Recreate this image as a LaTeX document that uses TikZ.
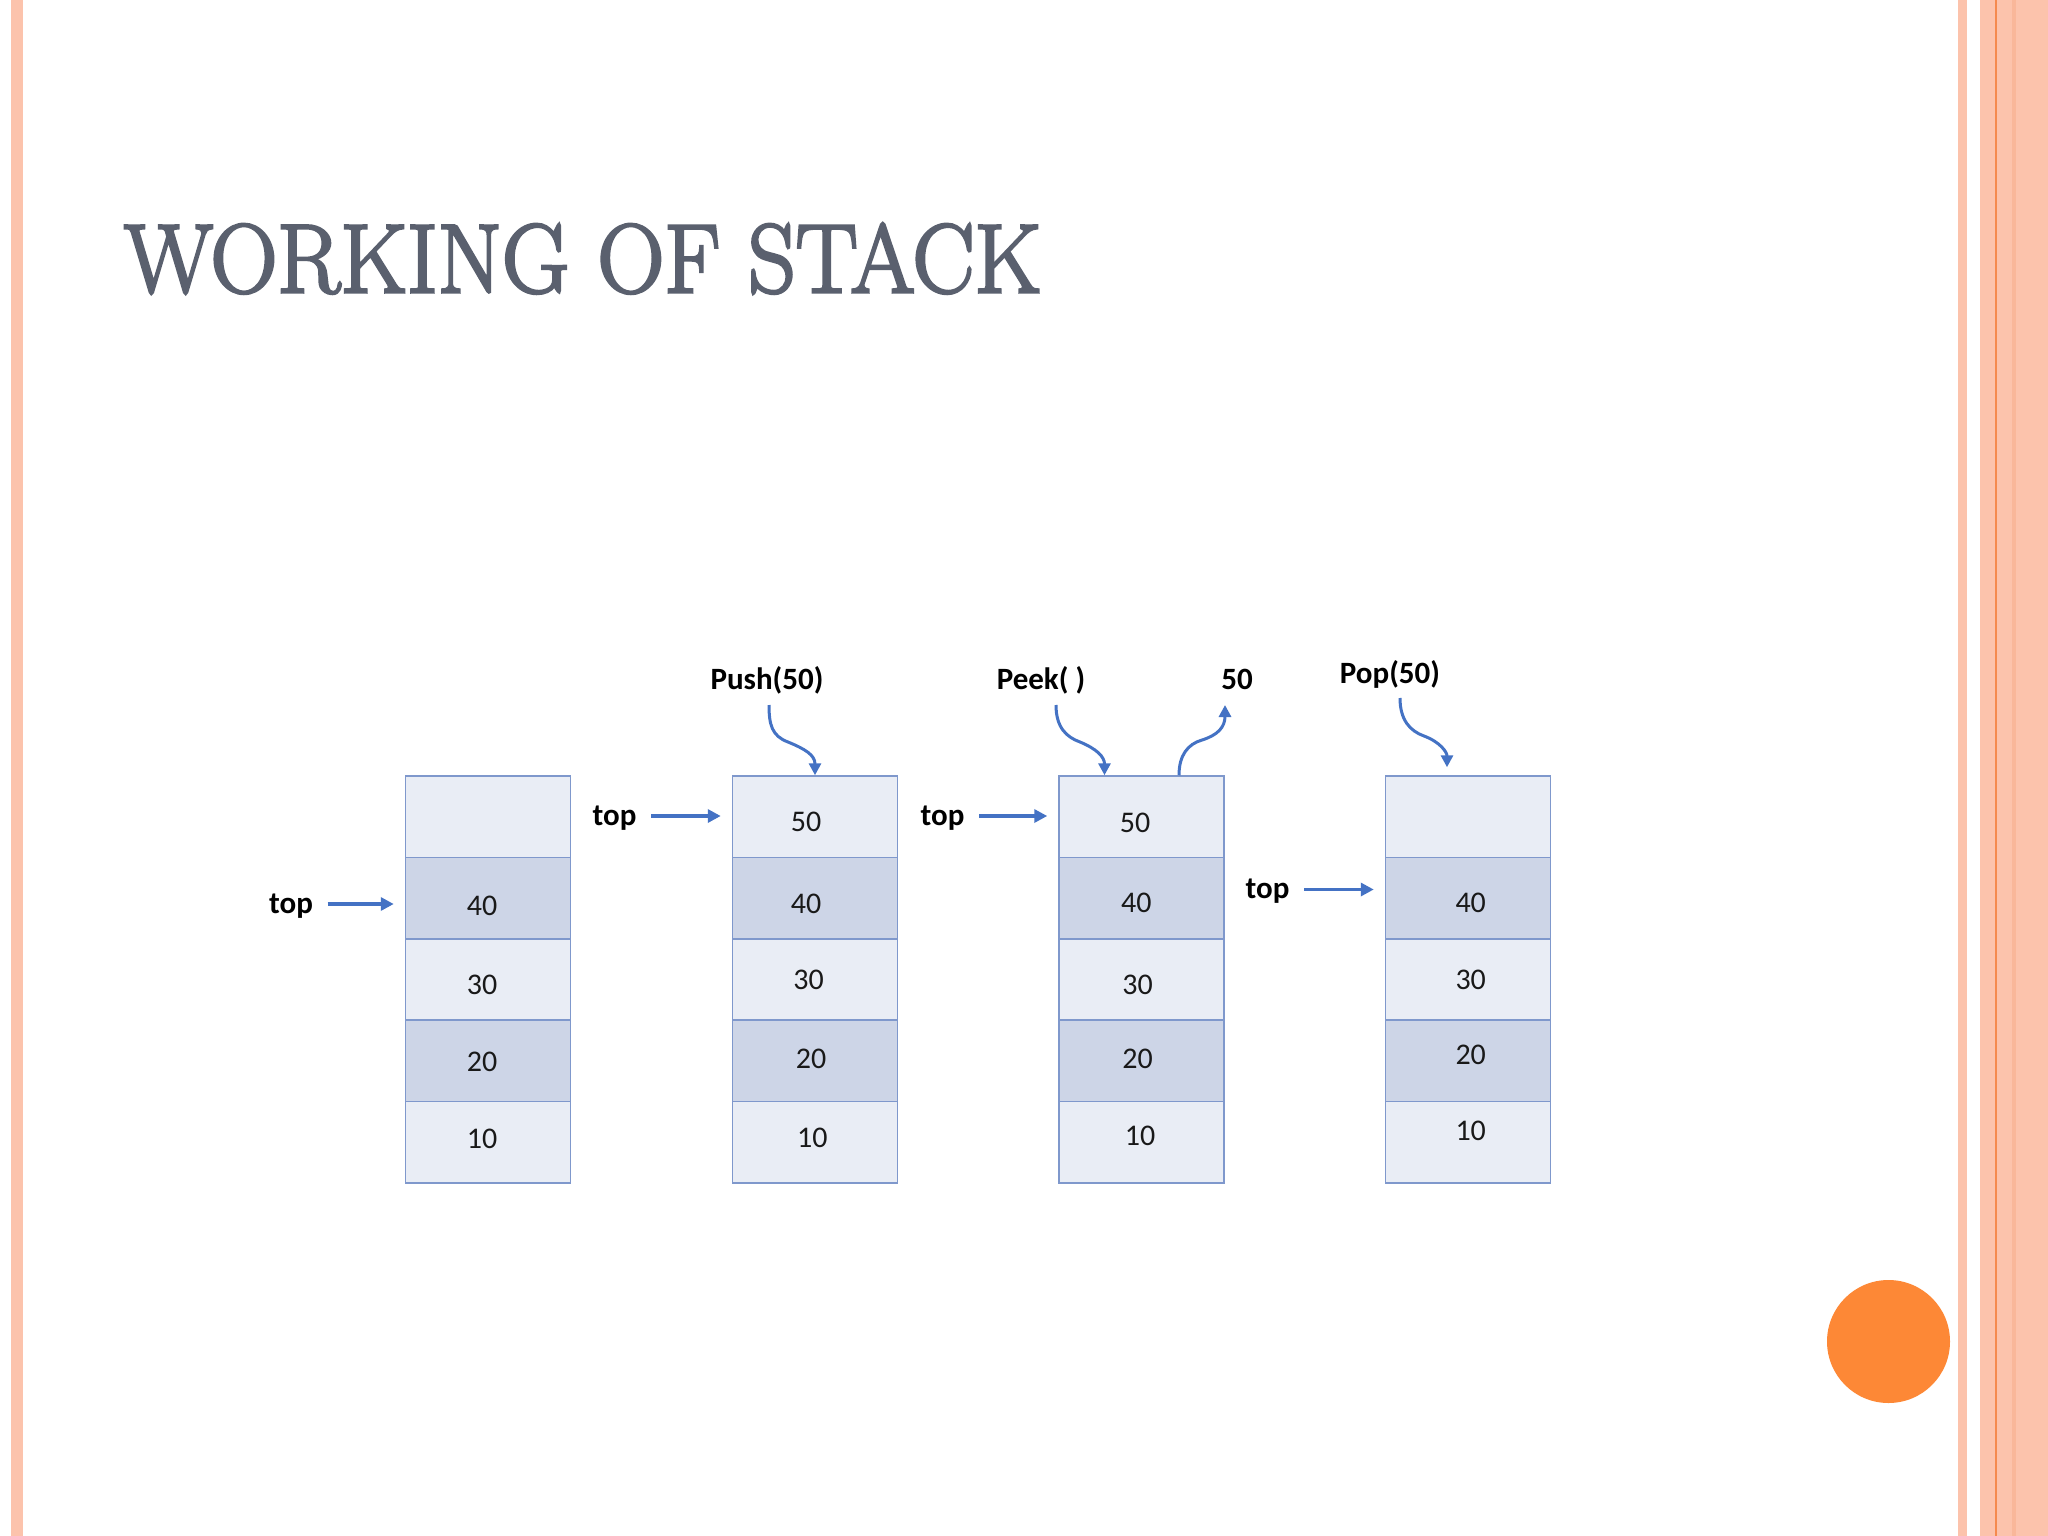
\documentclass[tikz,border=0pt]{standalone}
\usepackage{fontspec}
\newfontfamily\calib{Carlito}
\newfontfamily\titlefont[FakeBold=3]{Latin Modern Roman}
\usetikzlibrary{arrows.meta}
\definecolor{salmon}{HTML}{FCC3AC}
\definecolor{salmonD}{HTML}{F9B79A}
\definecolor{orangeL}{HTML}{F58A4E}
\definecolor{dotorange}{HTML}{FD8836}
\definecolor{titlegray}{HTML}{5A606E}
\definecolor{cellL}{HTML}{E9EDF5}
\definecolor{cellD}{HTML}{CDD5E7}
\definecolor{cellB}{HTML}{7F98CC}
\definecolor{arrblue}{HTML}{4472C4}
\tikzset{
 cell/.style={draw=cellB, line width=1.5pt, minimum width=165pt, minimum height=81.4pt, inner sep=0pt},
 lc/.style={cell, fill=cellL},
 dc/.style={cell, fill=cellD},
 num/.style={font=\calib\fontsize{30}{36}\selectfont, text=black!90, inner sep=0pt},
 lab/.style={font=\calib\bfseries\fontsize{31}{37}\selectfont, inner sep=0pt},
 ptr/.style={draw=arrblue, line width=3.5pt, shorten <=14.5pt, shorten >=11pt, -{Triangle[length=13pt,width=13pt]}},
 curv/.style={draw=arrblue, line width=3pt, -{Triangle[length=12pt,width=12pt]}},
}
\begin{document}
\begin{tikzpicture}[x=1pt,y=-1pt]
\useasboundingbox (0,0) rectangle (2048,1536);
\fill[white] (0,0) rectangle (2048,1536);
% decorative stripes
\fill[salmon] (11,0) rectangle (23,1536);
\fill[salmon] (1958,0) rectangle (1967,1536);
\fill[salmon] (1980,0) rectangle (2048,1536);
\fill[orangeL] (1995,0) rectangle (1997,1536);
\fill[salmonD] (2012,0) rectangle (2016,1536);
\fill[dotorange] (1888.5,1341.5) circle (61.5pt);
% title
\node[anchor=south west, inner sep=0pt, text=titlegray] (title) at (124,294)
  {\resizebox{917pt}{69pt}{\titlefont\fontsize{100}{100}\selectfont WORKING OF STACK}};
% stacks
\foreach \s/\x in {1/488,2/815,3/1141.5,4/1468}{
  \node[lc] (s\s c1) at (\x,816.7) {};
  \node[dc] (s\s c2) at (\x,898.1) {};
  \node[lc] (s\s c3) at (\x,979.5) {};
  \node[dc] (s\s c4) at (\x,1060.9) {};
  \node[lc] (s\s c5) at (\x,1142.3) {};
}
% numbers
\node[num] (n12) at (482,906) {40};
\node[num] (n13) at (482,985) {30};
\node[num] (n14) at (482,1062) {20};
\node[num] (n15) at (482,1139) {10};
\node[num] (n21) at (806,821.5) {50};
\node[num] (n22) at (806,904) {40};
\node[num] (n23) at (808.5,979.6) {30};
\node[num] (n24) at (811,1059.2) {20};
\node[num] (n25) at (812.4,1137.6) {10};
\node[num] (n31) at (1135,822.9) {50};
\node[num] (n32) at (1136.3,902.5) {40};
\node[num] (n33) at (1137.6,984.8) {30};
\node[num] (n34) at (1137.6,1059.2) {20};
\node[num] (n35) at (1140,1136.3) {10};
\node[num] (n42) at (1470.7,902.5) {40};
\node[num] (n43) at (1470.7,979.6) {30};
\node[num] (n44) at (1470.7,1055.3) {20};
\node[num] (n45) at (1470.7,1131.1) {10};
% top pointers
\node[lab, anchor=base] (t1) at (291,913) {top};
\node[lab, anchor=base] (t2) at (614.5,825) {top};
\node[lab, anchor=base] (t3) at (942.5,825) {top};
\node[lab, anchor=base] (t4) at (1267.5,898.5) {top};
\draw[ptr] ([yshift=9pt]t1.base east) -- ([yshift=9pt]t1.base east -| s1c2.west);
\draw[ptr] ([yshift=9pt]t2.base east) -- ([yshift=9pt]t2.base east -| s2c1.west);
\draw[ptr] ([yshift=9pt]t3.base east) -- ([yshift=9pt]t3.base east -| s3c1.west);
\draw[ptr] ([yshift=9pt]t4.base east) -- ([yshift=9pt]t4.base east -| s4c2.west);
% operation labels
\node[lab] (push) at (767,680) {Push(50)};
\node[lab] (peek) at (1041,680) {Peek( )};
\node[lab] (fifty) at (1237,679) {50};
\node[lab] (pop) at (1390,674) {Pop(50)};
\coordinate (pushS) at (769,705);
\coordinate (peekS) at (1056,705);
\coordinate (retE) at (1225,705);
\coordinate (popS) at (1400,698);
\draw[curv] (pushS) .. controls (769,725) and (772,736) .. (788,742)
  .. controls (805,749) and (815,755) .. (s2c1.north);
\draw[curv] (peekS) .. controls (1056,727) and (1066,737) .. (1080,742)
  .. controls (1097,749) and (1104.5,757) .. ([xshift=-37pt]s3c1.north);
\draw[curv] ([xshift=37.5pt]s3c1.north) .. controls (1179,755) and (1188,744) .. (1202,740)
  .. controls (1218,735) and (1225,727) .. (retE);
\draw[curv] (popS) .. controls (1400,720) and (1410,731) .. (1424,736)
  .. controls (1440,742) and (1447,752) .. ([xshift=-21pt,yshift=8pt]s4c1.north);
\end{tikzpicture}
\end{document}
